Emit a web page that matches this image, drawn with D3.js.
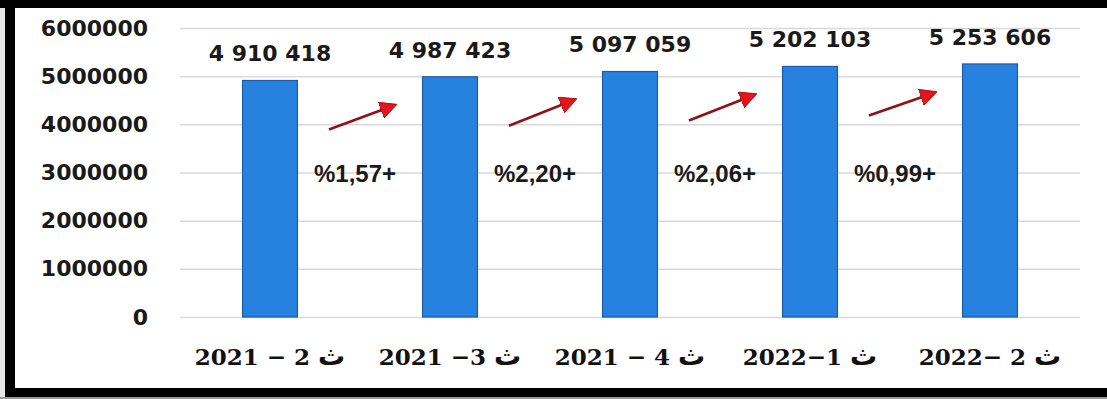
<!DOCTYPE html>
<html lang="ar">
<head>
    <meta charset="utf-8" />
    <title>Quarterly values</title>
    <script src="https://d3js.org/d3.v7.min.js"></script>
    <style>
        body { margin: 0; background: #fff; }
        svg { display: block; }
    </style>
</head>
<body>
    <div id="graph"></div>
    <script>
        // data
        var quarters = ["2021 − 2 ث", "2021 −3 ث", "2021 − 4 ث", "2022−1 ث", "2022− 2 ث"];
        var values = [4910418, 4987423, 5097059, 5202103, 5253606];
        var changes = ["%1,57+", "%2,20+", "%2,06+", "%0,99+"];
        var yTicks = [0, 1000000, 2000000, 3000000, 4000000, 5000000, 6000000];

        var width = 1107, height = 399;

        var svg = d3.select("#graph")
            .append("svg")
            .attr("width", width)
            .attr("height", height);

        // frame
        svg.append("rect").attr("width", width).attr("height", height).attr("fill", "#fff");
        svg.append("rect").attr("x", 0).attr("y", 0).attr("width", 5).attr("height", height).attr("fill", "#e6e6e6");
        svg.append("rect").attr("x", 0).attr("y", 397).attr("width", width).attr("height", 2).attr("fill", "#9a9a9a");
        svg.append("rect").attr("x", 0).attr("y", 0).attr("width", width).attr("height", 8).attr("fill", "#000");
        svg.append("rect").attr("x", 5).attr("y", 0).attr("width", 10).attr("height", 397).attr("fill", "#000");
        svg.append("rect").attr("x", 5).attr("y", 388).attr("width", width - 5).attr("height", 9).attr("fill", "#000");

        var x = d3.scaleBand()
            .domain(quarters)
            .range([180, 1080])
            .paddingInner(0.695)
            .paddingOuter(0.3475);

        var y = d3.scaleLinear()
            .domain([0, 6000000])
            .range([317, 28]);

        //gridlines + y labels
        var yAxis = svg.append("g")
            .attr("transform", "translate(180,0)")
            .call(d3.axisLeft(y).tickValues(yTicks).tickSize(-900).tickPadding(32).tickFormat(d3.format("d")));
        yAxis.select(".domain").remove();
        yAxis.selectAll(".tick line").attr("stroke", "#d9d9d9").attr("stroke-width", 1.5);
        yAxis.selectAll(".tick text")
            .attr("fill", "#1a1a1a")
            .style("font-family", "'DejaVu Sans', sans-serif")
            .style("font-weight", "bold")
            .style("font-size", "22px");

        // bars
        svg.selectAll(".bar")
            .data(values)
            .enter()
            .append("rect")
            .attr("class", "bar")
            .attr("x", (d, i) => x(quarters[i]))
            .attr("y", (d) => y(d))
            .attr("width", x.bandwidth())
            .attr("height", (d) => y(0) - y(d))
            .attr("fill", "#2782df")
            .attr("stroke", "#1d5ba8")
            .attr("stroke-width", 1.2);

        // value labels
        var fmt = d3.format(",");
        svg.selectAll(".val")
            .data(values)
            .enter()
            .append("text")
            .attr("class", "val")
            .attr("x", (d, i) => x(quarters[i]) + x.bandwidth() / 2)
            .attr("y", (d) => y(d) - 19)
            .attr("text-anchor", "middle")
            .attr("fill", "#1a1a1a")
            .style("font-family", "'DejaVu Sans', sans-serif")
            .style("font-weight", "bold")
            .style("font-size", "22px")
            .text((d) => fmt(d).replace(/,/g, " "));

        // x labels (the arabic letter drawn a bit larger, like the original)
        var xl = svg.selectAll(".xl")
            .data(quarters)
            .enter()
            .append("text")
            .attr("class", "xl")
            .attr("x", (d) => x(d) + x.bandwidth() / 2)
            .attr("y", 365)
            .attr("text-anchor", "middle")
            .attr("fill", "#111")
            .style("font-family", "'DejaVu Serif', serif")
            .style("font-weight", "bold")
            .style("font-size", "23px");
        xl.append("tspan").text((d) => d.replace("ث", ""));
        xl.append("tspan")
            .style("font-family", "'DejaVu Sans', sans-serif")
            .style("font-size", "27px")
            .text("ث");

        // arrows between bars
        var defs = svg.append("defs");
        defs.append("marker")
            .attr("id", "head")
            .attr("markerUnits", "userSpaceOnUse")
            .attr("viewBox", "0 0 16 16")
            .attr("refX", 4)
            .attr("refY", 8)
            .attr("markerWidth", 17)
            .attr("markerHeight", 17)
            .attr("orient", "auto")
            .append("path")
            .attr("d", "M0,0 L16,8 L0,16 Z")
            .attr("fill", "#e3141b")
            .attr("stroke", "#a30d12")
            .attr("stroke-width", 0.8);

        function mid(i) {
            return (x(quarters[i]) + x(quarters[i + 1])) / 2 + x.bandwidth() / 2;
        }

        svg.selectAll(".arrow")
            .data(changes)
            .enter()
            .append("line")
            .attr("class", "arrow")
            .attr("x1", (d, i) => mid(i) - 31)
            .attr("y1", (d, i) => y(values[i]) + 49)
            .attr("x2", (d, i) => mid(i) + 25)
            .attr("y2", (d, i) => y(values[i + 1]) + 32)
            .attr("stroke", "#8a1419")
            .attr("stroke-width", 2.6)
            .attr("marker-end", "url(#head)");

        // percent labels
        svg.selectAll(".pct")
            .data(changes)
            .enter()
            .append("text")
            .attr("class", "pct")
            .attr("x", (d, i) => mid(i) - 5)
            .attr("y", y(2800000))
            .attr("text-anchor", "middle")
            .attr("fill", "#1a1a1a")
            .style("font-family", "'Liberation Sans', Arial, sans-serif")
            .style("font-weight", "bold")
            .style("font-size", "24px")
            .text((d) => d);
    </script>
</body>
</html>
